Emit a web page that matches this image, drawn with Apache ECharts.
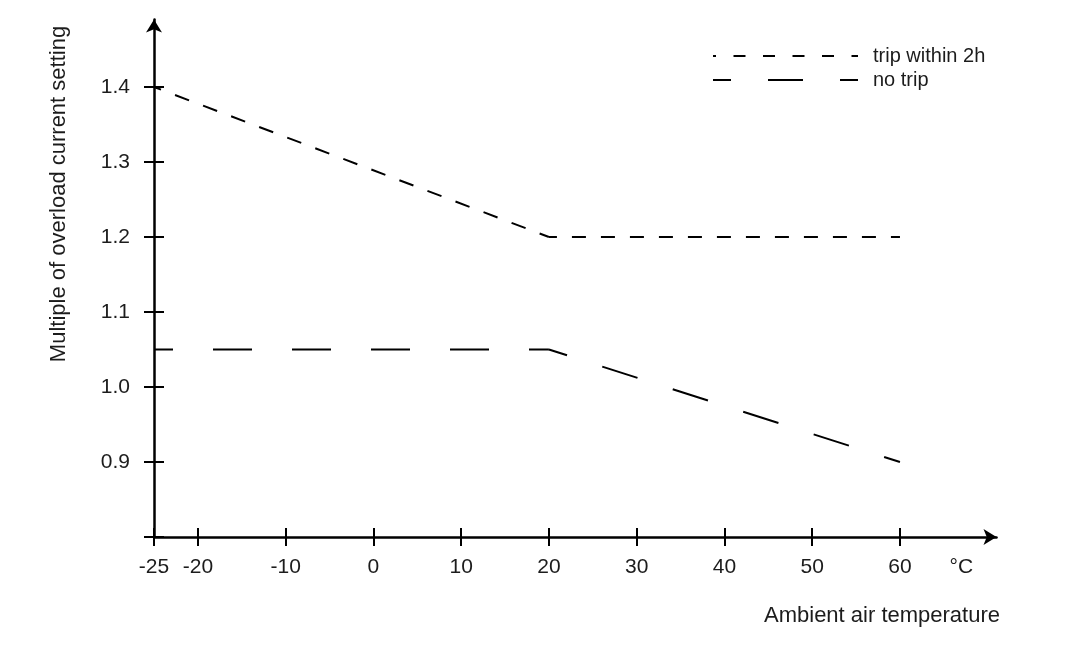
<!DOCTYPE html>
<html>
<head>
<meta charset="utf-8">
<script src="https://cdn.jsdelivr.net/npm/echarts@6/dist/echarts.min.js"></script>
<style>
html,body{margin:0;padding:0;background:#fff;}
#chart{width:1087px;height:647px;}
</style>
</head>
<body>
<div id="chart"></div>
<script>
// ---- data ----
var temperatures = [-25, 20, 60];
var tripWithin2h = [1.4, 1.2, 1.2];
var noTrip = [1.05, 1.05, 0.9];
var xTickValues = [-25, -20, -10, 0, 10, 20, 30, 40, 50, 60];
var xLabelValues = [-25, -20, -10, 0, 10, 20, 30, 40, 50, 60, 67];
var yTickValues = [0.8, 0.9, 1.0, 1.1, 1.2, 1.3, 1.4];
var yLabelValues = [0.9, 1.0, 1.1, 1.2, 1.3, 1.4];
var unitLabel = '°C';
var seriesNames = ['trip within 2h', 'no trip'];
var xTitle = 'Ambient air temperature';
var yTitle = 'Multiple of overload current setting';

function pairs(xs, ys) { return xs.map(function (x, i) { return [x, ys[i]]; }); }

var TEXT = '#1c1c1c';
var FONT = 'Liberation Sans, Arial, sans-serif';

var chart = echarts.init(document.getElementById('chart'), null, { renderer: 'canvas' });

var baseX = { type: 'value', min: -25, max: 71, gridIndex: 0, position: 'bottom', splitLine: { show: false } };
var baseY = { type: 'value', min: 0.8, max: 1.49, gridIndex: 0, position: 'left', splitLine: { show: false } };

// each straight piece of a curve is drawn as its own dashed segment (as in the original drawing)
function segment(name, xs, ys, from, dash, offset) {
  return {
    name: name, type: 'line', xAxisIndex: 0, yAxisIndex: 0, symbol: 'none', color: '#000',
    lineStyle: { color: '#000', width: 2, type: dash, dashOffset: offset },
    data: pairs(xs.slice(from, from + 2), ys.slice(from, from + 2))
  };
}

chart.setOption({
  backgroundColor: '#fff',
  animation: false,
  grid: { left: 154, right: 90.5, top: 19.5, bottom: 110, containLabel: false },
  legend: {
    orient: 'vertical',
    left: 712,
    top: 46,
    padding: 0,
    itemWidth: 145,
    itemHeight: 14,
    itemGap: 4,
    itemStyle: { opacity: 0 },
    textStyle: { fontSize: 20, fontFamily: FONT, color: TEXT, lineHeight: 20, padding: [0, 0, 0, 10] },
    data: [
      { name: seriesNames[0], itemStyle: { opacity: 0 }, lineStyle: { type: [12, 17.5], dashOffset: 9, width: 2, color: '#000' } },
      { name: seriesNames[1], itemStyle: { opacity: 0 }, lineStyle: { type: [35, 37], dashOffset: 17, width: 2, color: '#000' } }
    ]
  },
  xAxis: [
    Object.assign({}, baseX, {
      axisLine: { show: true, onZero: false, symbol: ['none', 'arrow'], symbolSize: [12, 13], lineStyle: { color: '#000', width: 2.5 } },
      axisTick: { show: true, inside: false, length: 9, customValues: xTickValues, lineStyle: { color: '#000', width: 2 } },
      axisLabel: {
        show: true, margin: 20, customValues: xLabelValues, fontSize: 21, fontFamily: FONT, color: TEXT,
        formatter: function (v) { return v === 67 ? unitLabel : String(v); }
      }
    }),
    Object.assign({}, baseX, {
      axisLine: { show: false, onZero: false },
      axisTick: { show: true, inside: true, length: 9, customValues: xTickValues, lineStyle: { color: '#000', width: 2 } },
      axisLabel: { show: false }
    })
  ],
  yAxis: [
    Object.assign({}, baseY, {
      axisLine: { show: true, onZero: false, symbol: ['none', 'arrow'], symbolSize: [12, 13], lineStyle: { color: '#000', width: 2.5 } },
      axisTick: { show: true, inside: false, length: 10, customValues: yTickValues, lineStyle: { color: '#000', width: 2 } },
      axisLabel: {
        show: true, margin: 24, customValues: yLabelValues, fontSize: 21, fontFamily: FONT, color: TEXT,
        formatter: function (v) { return v.toFixed(1); }
      }
    }),
    Object.assign({}, baseY, {
      axisLine: { show: false, onZero: false },
      axisTick: { show: true, inside: true, length: 10, customValues: yTickValues, lineStyle: { color: '#000', width: 2 } },
      axisLabel: { show: false }
    })
  ],
  graphic: [
    { type: 'text', x: 1000, y: 616, style: { text: xTitle, fill: TEXT, font: '22px ' + FONT, align: 'right', verticalAlign: 'middle' } },
    { type: 'text', x: 59, y: 194, rotation: Math.PI / 2, style: { text: yTitle, fill: TEXT, font: '22px ' + FONT, align: 'center', verticalAlign: 'middle' } }
  ],
  series: [
    segment(seriesNames[0], temperatures, tripWithin2h, 0, [15, 15], 7.5),
    segment(seriesNames[0], temperatures, tripWithin2h, 1, [14, 15], 6),
    segment(seriesNames[1], temperatures, noTrip, 0, [39, 40], 20),
    segment(seriesNames[1], temperatures, noTrip, 1, [37, 37], 18)
  ]
});
</script>
</body>
</html>
